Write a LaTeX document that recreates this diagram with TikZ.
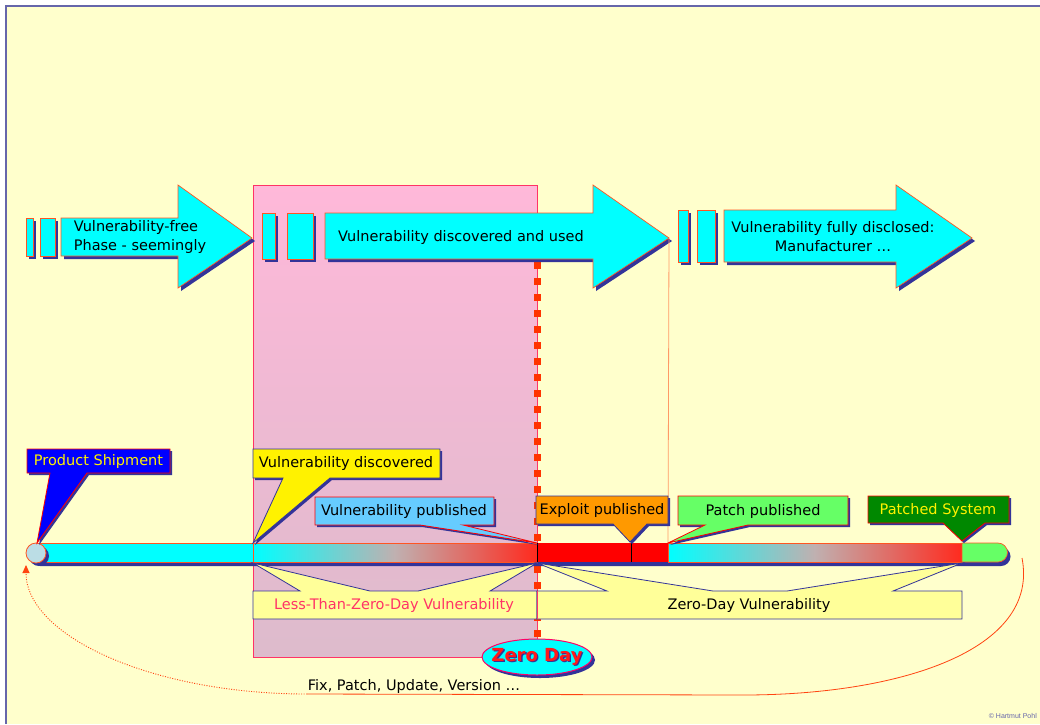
\documentclass[tikz,border=0pt]{standalone}
\usepackage{fontspec}
\setmainfont{DejaVu Sans}
\newfontfamily\smallsans{Liberation Sans}
\usetikzlibrary{arrows.meta,shapes.geometric}
\definecolor{bgy}{HTML}{FFFFCC}
\definecolor{bordc}{HTML}{6666AA}
\definecolor{cyanc}{HTML}{00FFFF}
\definecolor{orc}{HTML}{FF5522}
\definecolor{shadowc}{HTML}{333399}
\definecolor{pinkT}{HTML}{FFB8D9}
\definecolor{pinkB}{HTML}{DDBBCC}
\definecolor{pinkline}{HTML}{FF3366}
\definecolor{sqc}{HTML}{FF3300}
\definecolor{thinor}{HTML}{FF9966}
\definecolor{pubblue}{HTML}{66CCFF}
\definecolor{exor}{HTML}{FF9900}
\definecolor{lgreen}{HTML}{66FF66}
\definecolor{dgreen}{HTML}{008800}
\definecolor{lyel}{HTML}{FFFF99}
\definecolor{circf}{HTML}{BBDDE5}
\definecolor{zdred}{HTML}{FF1A1A}
\definecolor{zdborder}{HTML}{FF0066}
\definecolor{midg}{HTML}{C0B0B0}
\definecolor{endred}{HTML}{FF2A1E}
\definecolor{curvec}{HTML}{FF4411}

\newcommand\BigArrow[5]{%
  \fill[shadowc] (#1+3,#4+3) -- (#2+3,#4+3) -- (#2+3,188) -- (#3+3,241) -- (#2+3,291) -- (#2+3,#5+3) -- (#1+3,#5+3) -- cycle;
  \filldraw[arrowbody] (#1,#4) -- (#2,#4) -- (#2,185) -- (#3,238) -- (#2,288) -- (#2,#5) -- (#1,#5) -- cycle;}
\newcommand\Tab[4]{%
  \fill[shadowc] (#1+3,#2+3) rectangle (#3+3,#4+3);
  \filldraw[arrowbody] (#1,#2) rectangle (#3,#4);}
\newcommand\Callout[9]{%
  \fill[shadowc] (#2+2,#3+2) -- (#4+2,#3+2) -- (#4+2,#5+2) -- (#7+2,#5+2) -- (#8+2,#9+2) -- (#6+2,#5+2) -- (#2+2,#5+2) -- cycle;
  \filldraw[#1] (#2,#3) -- (#4,#3) -- (#4,#5) -- (#7,#5) -- (#8,#9) -- (#6,#5) -- (#2,#5) -- cycle;}

\begin{document}
\begin{tikzpicture}[x=1pt,y=-1pt,
  lbl/.style={font=\fontsize{14.5}{19}\selectfont, inner sep=0pt},
  arrowbody/.style={fill=cyanc, draw=orc, line width=0.7pt},
  segline/.style={draw=orc, line width=0.7pt},
  callred/.style={draw=red, line width=0.8pt},
  callblue/.style={draw=shadowc, line width=0.8pt}]
\useasboundingbox (0,0) rectangle (1040,724);
\fill[white] (0,0) rectangle (1040,724);
\fill[bgy] (6,6) rectangle (1040,724);
\draw[bordc, line width=1.2pt] (6,724) -- (6,6) -- (1040,6);

% pink region
\shade[top color=pinkT, bottom color=pinkB] (253,185) rectangle (537,657);
\draw[pinkline, line width=1pt] (253,185) rectangle (537,657);
\draw[sqc, line width=7pt, dash pattern=on 7pt off 9pt] (537,262) -- (537,645);

% top arrows
\BigArrow{61}{178}{252}{218}{256}
\Tab{26}{218}{33}{256}
\Tab{40}{218}{55}{256}
\BigArrow{325}{593}{669}{213}{259}
\Tab{262}{213}{275}{259}
\Tab{287}{213}{313}{259}
\BigArrow{724}{896}{972}{210}{262}
\Tab{678}{210}{688}{262}
\Tab{697}{210}{715}{262}
\node[lbl, align=left] (a1) at (140,237) {Vulnerability-free\\Phase - seemingly};
\node[lbl] (a2) at (461,237) {Vulnerability discovered and used};
\node[lbl, align=center] (a3) at (833,237) {Vulnerability fully disclosed:\\Manufacturer …};

\coordinate (tip2) at (669,238);
\coordinate (bar668) at (668,543);
\draw[thinor, line width=0.8pt] (tip2) -- (bar668);

% bar
\fill[shadowc] (40,547) -- (1001,547) arc[start angle=-90, end angle=90, radius=9.5] -- (40,566) -- cycle;
\fill[cyanc] (36,543) rectangle (253,562);
\draw[segline] (36,543) -- (253,543) -- (253,562) -- (36,562);
\shade[left color=cyanc, right color=endred, middle color=midg] (253,543) rectangle (537,562);
\draw[segline] (253,543) rectangle (537,562);
\fill[red] (537,543) rectangle (668,562);
\shade[left color=cyanc, right color=endred, middle color=midg] (668,543) rectangle (962,562);
\draw[segline] (668,543) rectangle (962,562);
\filldraw[fill=lgreen, draw=orc, line width=0.7pt] (962,543) -- (998,543) arc[start angle=-90, end angle=90, radius=9.5] -- (962,562) -- cycle;
\draw[black, line width=0.8pt] (537,543) -- (537,562) (631,543) -- (631,562);
\fill[shadowc] (39,556) circle (10);
\filldraw[fill=circf, draw=orc, line width=0.8pt] (36,553) circle (10);

% callouts
\Callout{fill=blue, callred}{27}{449}{170}{473}{50}{87}{37}{543}
\node[lbl, text=yellow] (ps) at (98.5,461) {Product Shipment};
\Callout{fill=yellow, callblue}{253}{449}{440}{478}{283}{330}{253}{543}
\node[lbl] (vd) at (346,463) {Vulnerability discovered};
\Callout{fill=pubblue, callred}{315}{497}{494}{525}{420}{463}{537}{543}
\node[lbl] (vp) at (404,511) {Vulnerability published};
\Callout{fill=exor, callblue}{536}{496}{668}{524}{613}{647}{630}{542}
\node[lbl] (ep) at (602,510) {Exploit published};
\Callout{fill=lgreen, callred}{678}{496}{848}{525}{705}{748}{668}{543}
\node[lbl] (pp) at (763,511) {Patch published};
\Callout{fill=dgreen, callred}{868}{496}{1009}{523}{943}{985}{962}{541}
\node[lbl, text=yellow] (psys) at (938,510) {Patched System};

% bottom boxes
\filldraw[fill=lyel, callblue] (253,591) -- (300,591) -- (253,563) -- (370,591) -- (418,591) -- (537,563) -- (490,591) -- (537,591) -- (537,619) -- (253,619) -- cycle;
\filldraw[fill=lyel, callblue] (537,591) -- (607,591) -- (537,563) -- (713,591) -- (787,591) -- (962,563) -- (893,591) -- (962,591) -- (962,619) -- (537,619) -- cycle;
\draw[pinkline, line width=0.8pt] (537,591) -- (537,619);
\node[lbl, text=pinkline] (ltz) at (394,605) {Less-Than-Zero-Day Vulnerability};
\node[lbl] (zdv) at (749,605) {Zero-Day Vulnerability};

% zero day
\fill[shadowc] (540,660) ellipse [x radius=55, y radius=18];
\filldraw[fill=cyanc, draw=zdborder, line width=1pt] (537,657) ellipse [x radius=55, y radius=18];
\node[font=\bfseries\fontsize{18}{20}\selectfont, text=shadowc, inner sep=0pt] at (538.3,658.3) {Zero Day};
\node[font=\bfseries\fontsize{18}{20}\selectfont, text=zdred, inner sep=0pt] (zd) at (537,657) {Zero Day};

% return curve
\coordinate (cR) at (1022,558);
\coordinate (cM) at (743,695);
\coordinate (cL) at (307,694);
\coordinate (cA) at (26,565);
\draw[curvec, line width=0.8pt] (cR) .. controls (1040,650) and (900,695) .. (cM) -- (cL);
\draw[curvec, line width=0.9pt, dash pattern=on 1pt off 1.5pt, -{Triangle[width=7pt,length=8pt]}] (cL) .. controls (152,694) and (26,636) .. (cA);
\node[lbl] (fix) at (414,686) {Fix, Patch, Update, Version …};

\node[font=\smallsans\fontsize{7}{8}\selectfont, text=bordc, anchor=east, inner sep=0pt] (copy) at (1037,716) {© Hartmut Pohl};
\end{tikzpicture}
\end{document}
